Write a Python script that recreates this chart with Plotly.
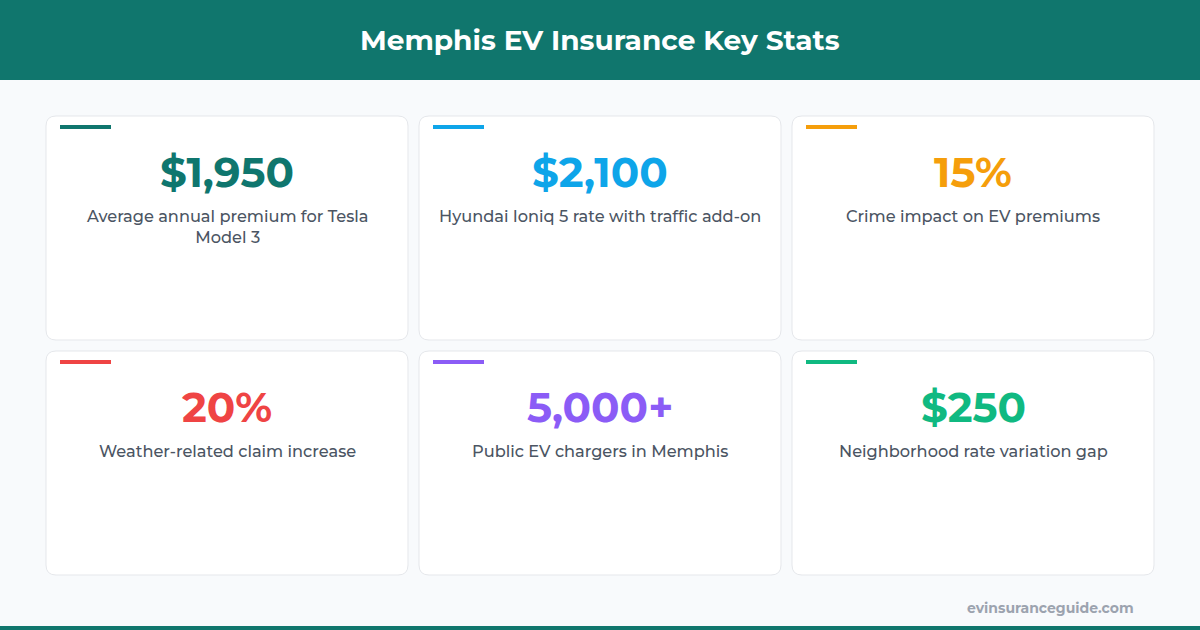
import plotly.graph_objects as go

title = "Memphis EV Insurance Key Stats"
values = ["$1,950", "$2,100", "15%", "20%", "5,000+", "$250"]
labels = ["Average annual premium for Tesla<br>Model 3", "Hyundai Ioniq 5 rate with traffic add-on",
          "Crime impact on EV premiums", "Weather-related claim increase",
          "Public EV chargers in Memphis", "Neighborhood rate variation gap"]
colors = ["#0f766e", "#0ea5e9", "#f59e0b", "#ef4444", "#8b5cf6", "#10b981"]
footer = "evinsuranceguide.com"

W, H = 1200, 630
FONT = "Montserrat, Inter, sans-serif"
fig = go.Figure()
shapes = []
ann = []

def rrect(x0, y0, x1, y1, r):
    return (f"M{x0+r},{y0} L{x1-r},{y0} Q{x1},{y0} {x1},{y0+r} L{x1},{y1-r} Q{x1},{y1} {x1-r},{y1} "
            f"L{x0+r},{y1} Q{x0},{y1} {x0},{y1-r} L{x0},{y0+r} Q{x0},{y0} {x0+r},{y0} Z")

shapes.append(dict(type="rect", x0=0, x1=W, y0=0, y1=80, fillcolor="#10766d", line_width=0, layer="below"))
shapes.append(dict(type="rect", x0=0, x1=W, y0=626, y1=630, fillcolor="#10766d", line_width=0, layer="below"))
ann.append(dict(x=600, y=40, text=f"<b>{title}</b>", showarrow=False,
                font=dict(size=28, color="white", family=FONT)))

xs = [46, 419, 792]
ys = [116, 351]
cw, ch = 362, 224
for i, (v, l, c) in enumerate(zip(values, labels, colors)):
    x0 = xs[i % 3]; y0 = ys[i // 3]
    shapes.append(dict(type="path", path=rrect(x0, y0, x0 + cw, y0 + ch, 10), fillcolor="white",
                       line=dict(color="#e5e7eb", width=1), layer="below"))
    shapes.append(dict(type="rect", x0=x0 + 14, x1=x0 + 65, y0=y0 + 9, y1=y0 + 13, fillcolor=c, line_width=0))
    ann.append(dict(x=x0 + cw / 2, y=y0 + 56, text=f"<b>{v}</b>", showarrow=False,
                    font=dict(size=42, color=c, family=FONT)))
    ann.append(dict(x=x0 + cw / 2, y=y0 + 88, text=l, showarrow=False, yanchor="top",
                    font=dict(size=16.2, color="#4b5563", family=FONT, weight=500)))

ann.append(dict(x=1136, y=608, text=f"<b>{footer}</b>", showarrow=False, xanchor="right",
                font=dict(size=14, color="#9ca3af", family=FONT)))

fig.update_layout(width=W, height=H, margin=dict(l=0, r=0, t=0, b=0),
                  paper_bgcolor="#f8fafc", plot_bgcolor="#f8fafc",
                  xaxis=dict(range=[0, W], visible=False, fixedrange=True),
                  yaxis=dict(range=[H, 0], visible=False, fixedrange=True),
                  shapes=shapes, annotations=ann, showlegend=False)
fig.write_html("out.html", config={"displayModeBar": False},
               post_script="document.body.style.margin='0';document.body.style.overflow='hidden';")
